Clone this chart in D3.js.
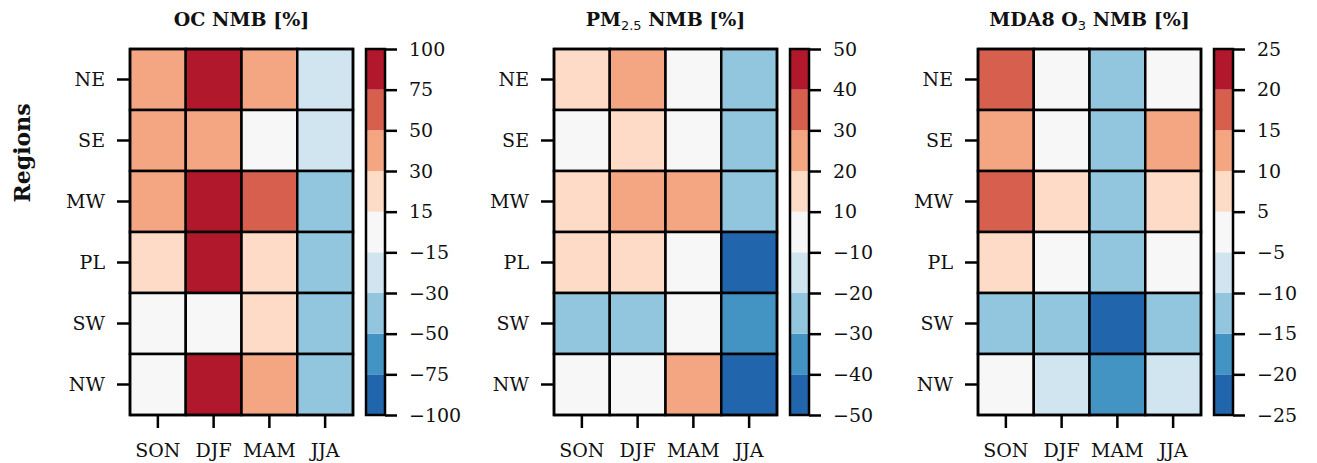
<!DOCTYPE html>
<html>
<head>
<meta charset="utf-8">
<script src="https://cdn.jsdelivr.net/npm/d3@7"></script>
<style>
  body { margin: 0; background: #fff; }
  svg text { font-family: "DejaVu Serif", serif; fill: #111; }
</style>
</head>
<body>
<svg id="graph" width="1317" height="463"></svg>
<script>
var seasons = ["SON", "DJF", "MAM", "JJA"];
var regions = ["NE", "SE", "MW", "PL", "SW", "NW"];

// NMB values [%], rows = regions, columns = seasons
var ocValues = [
  [40, 90, 40, -20],
  [40, 45, 5, -22],
  [35, 95, 60, -40],
  [25, 85, 20, -35],
  [0, 10, 20, -45],
  [-5, 110, 40, -40]
];
var pmValues = [
  [15, 25, 0, -25],
  [5, 12, -2, -25],
  [15, 22, 25, -28],
  [12, 15, 3, -45],
  [-25, -22, -5, -35],
  [2, -3, 22, -48]
];
var o3Values = [
  [17, 0, -12, -2],
  [12, 1, -12, 12],
  [16, 7, -13, 8],
  [6, 2, -12, -1],
  [-12, -13, -22, -11],
  [-3, -7, -17, -8]
];

var ocBounds = [-100, -75, -50, -30, -15, 15, 30, 50, 75, 100];
var pmBounds = [-50, -40, -30, -20, -10, 10, 20, 30, 40, 50];
var o3Bounds = [-25, -20, -15, -10, -5, 5, 10, 15, 20, 25];

// RdBu_r, 9 classes
var colores = ["#2166ac", "#4393c3", "#92c5de", "#d1e5f0", "#f7f7f7",
               "#fddbc7", "#f4a582", "#d6604d", "#b2182b"];

var paneles = [
  { titulo: "OC", sub: null, resto: " NMB [%]", data: ocValues, bounds: ocBounds, left: 130 },
  { titulo: "PM", sub: "2.5", resto: " NMB [%]", data: pmValues, bounds: pmBounds, left: 554 },
  { titulo: "MDA8 O", sub: "3", resto: " NMB [%]", data: o3Values, bounds: o3Bounds, left: 978 }
];

var svg = d3.select("#graph");
var top0 = 49, hmW = 223, hmH = 366;
var cbGap = 13, cbW = 19;

paneles.forEach(function (p, k) {
  var g = svg.append("g").attr("transform", "translate(" + p.left + "," + top0 + ")");

  var x = d3.scaleBand().domain(seasons).range([0, hmW]);
  var y = d3.scaleBand().domain(regions).range([0, hmH]);
  var color = d3.scaleThreshold()
    .domain(p.bounds.slice(1, -1))
    .range(colores);

  var celdas = [];
  p.data.forEach(function (fila, i) {
    fila.forEach(function (v, j) {
      celdas.push({ region: regions[i], season: seasons[j], value: v });
    });
  });

  g.append("g").selectAll("rect")
    .data(celdas)
    .enter()
    .append("rect")
    .attr("x", d => x(d.season))
    .attr("y", d => y(d.region))
    .attr("width", x.bandwidth())
    .attr("height", y.bandwidth())
    .attr("fill", d => color(d.value))
    .attr("stroke", "#000")
    .attr("stroke-width", 2.5);

  g.append("rect")
    .attr("width", hmW).attr("height", hmH)
    .attr("fill", "none").attr("stroke", "#000").attr("stroke-width", 2.5);

  // ejes
  var ax = g.append("g")
    .attr("transform", "translate(0," + hmH + ")")
    .call(d3.axisBottom(x).tickSizeOuter(0).tickSizeInner(13).tickPadding(12));
  var ay = g.append("g")
    .call(d3.axisLeft(y).tickSizeOuter(0).tickSizeInner(13).tickPadding(12));
  [ax, ay].forEach(function (a) {
    a.select(".domain").remove();
    a.selectAll("line").attr("stroke", "#000").attr("stroke-width", 2.5);
    a.selectAll("text").style("font-size", "19px").style("font-family", "DejaVu Serif");
  });
  ax.selectAll("text").attr("dy", "0.9em");

  // titulo
  var t = svg.append("text")
    .attr("x", p.left + hmW / 2)
    .attr("y", 26)
    .attr("text-anchor", "middle")
    .style("font-size", "19px")
    .style("font-weight", "bold");
  t.append("tspan").text(p.titulo);
  if (p.sub) {
    t.append("tspan").text(p.sub)
      .attr("dy", 4)
      .style("font-size", "13px")
      .style("font-weight", "normal")
      .style("font-family", "DejaVu Sans");
    t.append("tspan").text(p.resto).attr("dy", -4);
  } else {
    t.append("tspan").text(p.resto);
  }

  // barra de color
  var cb = svg.append("g")
    .attr("transform", "translate(" + (p.left + hmW + cbGap) + "," + top0 + ")");
  var yc = d3.scalePoint().domain(p.bounds.slice().reverse()).range([0, hmH]);
  var tramos = d3.range(colores.length);
  cb.selectAll("rect")
    .data(tramos)
    .enter()
    .append("rect")
    .attr("x", 0)
    .attr("y", i => yc(p.bounds[i + 1]))
    .attr("width", cbW)
    .attr("height", i => yc(p.bounds[i]) - yc(p.bounds[i + 1]))
    .attr("fill", i => colores[i]);
  cb.append("rect")
    .attr("width", cbW).attr("height", hmH)
    .attr("fill", "none").attr("stroke", "#000").attr("stroke-width", 2.5);
  var ac = cb.append("g")
    .attr("transform", "translate(" + cbW + ",0)")
    .call(d3.axisRight(yc).tickSizeOuter(0).tickSizeInner(12).tickPadding(12)
      .tickFormat(d => d < 0 ? "\u2212" + Math.abs(d) : d));
  ac.select(".domain").remove();
  ac.selectAll("line").attr("stroke", "#000").attr("stroke-width", 2.5);
  ac.selectAll("text").style("font-size", "19px").style("font-family", "DejaVu Serif");
});

svg.append("text")
  .attr("transform", "translate(30,153) rotate(-90)")
  .attr("text-anchor", "middle")
  .style("font-size", "22px")
  .style("font-weight", "bold")
  .text("Regions");
</script>
</body>
</html>
